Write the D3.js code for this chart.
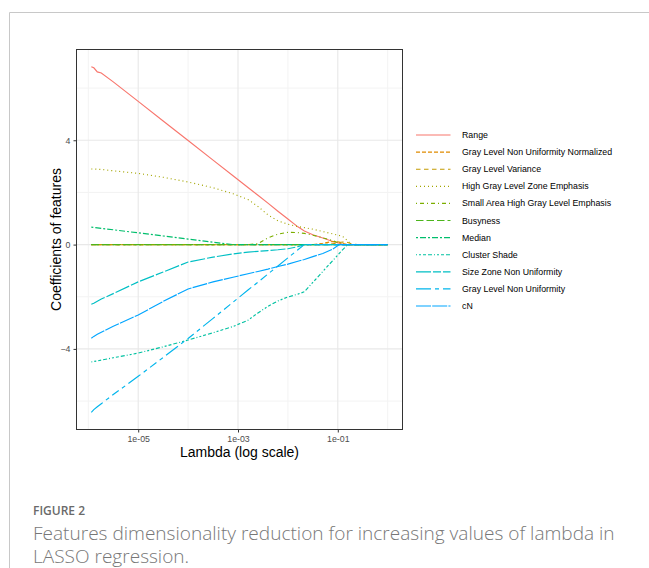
<!DOCTYPE html>
<html>
<head>
<meta charset="utf-8">
<script src="https://cdn.jsdelivr.net/npm/d3@7/dist/d3.min.js"></script>
<style>
  html, body { margin: 0; padding: 0; background: #ffffff; }
  svg { display: block; }
</style>
</head>
<body>
<svg id="chart" width="649" height="568"></svg>
<script>
// ---------------- DATA ----------------
const lambda = [1.148e-6, 1.288e-6, 1.514e-6, 1.820e-6, 3.162e-6, 1e-5, 3.162e-5, 1e-4, 3.162e-4,
  7.943e-4, 1.585e-3, 2.512e-3, 3.981e-3, 6.310e-3, 1e-2, 1.585e-2, 2.138e-2, 3.162e-2, 5.012e-2,
  7.943e-2, 0.1072, 0.1259, 0.1585, 0.1905, 0.2512, 1];

const featureNames = ["Range", "Gray Level Non Uniformity Normalized", "Gray Level Variance",
  "High Gray Level Zone Emphasis", "Small Area High Gray Level Emphasis", "Busyness", "Median",
  "Cluster Shade", "Size Zone Non Uniformity", "Gray Level Non Uniformity", "cN"];

const rangeCoef = [6.82,6.78,6.62,6.58,6.24,5.49,4.74,3.99,3.24,2.64,2.19,1.89,1.59,1.28,0.98,0.68,0.52,0.38,0.25,0.12,0.05,0,0,0,0,0];
const glnuNormCoef = [0,0,0,0,0,0,0,0,0,0,0,0,0,0,0,0,0,0,0.05,0.12,0.10,0.04,0,0,0,0];
const glVarianceCoef = [0,0,0,0,0,0,0,0,0,0,0,0,0,0,0,0,0,0,0,0.03,0.08,0.10,0.08,0.03,0,0];
const hglzeCoef = [2.90,2.90,2.89,2.88,2.83,2.73,2.58,2.40,2.18,1.95,1.73,1.46,1.14,0.91,0.78,0.69,0.65,0.59,0.50,0.41,0.35,0.31,0.14,0,0,0];
const sahgleCoef = [0,0,0,0,0,0,0,0,0,0,0,0.04,0.26,0.40,0.47,0.46,0.43,0.36,0.26,0.15,0.05,0,0,0,0,0];
const busynessCoef = [0,0,0,0,0,0,0,0,0,0,0,0,0,0,0,0,0,0,0,0,0,0,0,0,0,0];
const medianCoef = [0.67,0.66,0.64,0.62,0.57,0.45,0.33,0.21,0.09,0,0,0,0,0,0,0,0,0,0,0,0,0,0,0,0,0];
const clusterShadeCoef = [-4.50,-4.48,-4.46,-4.43,-4.34,-4.16,-3.92,-3.66,-3.38,-3.14,-2.90,-2.62,-2.37,-2.16,-2.01,-1.90,-1.81,-1.45,-1.03,-0.61,-0.34,-0.19,0,0,0,0];
const sznuCoef = [-2.29,-2.25,-2.17,-2.09,-1.88,-1.43,-1.05,-0.67,-0.48,-0.36,-0.29,-0.26,-0.23,-0.20,-0.16,-0.08,0,0,0,0,0,0,0,0,0,0];
const glnuCoef = [-6.43,-6.33,-6.22,-6.10,-5.75,-5.05,-4.33,-3.60,-2.83,-2.21,-1.74,-1.44,-1.13,-0.82,-0.51,-0.20,0,0,0,0,0,0,0,0,0,0];
const cNCoef = [-3.59,-3.52,-3.44,-3.36,-3.13,-2.70,-2.18,-1.70,-1.43,-1.25,-1.12,-1.03,-0.94,-0.84,-0.75,-0.64,-0.57,-0.46,-0.34,-0.17,0,0,0,0,0,0];

const coefSeries = [rangeCoef, glnuNormCoef, glVarianceCoef, hglzeCoef, sahgleCoef, busynessCoef,
  medianCoef, clusterShadeCoef, sznuCoef, glnuCoef, cNCoef];

const yTicks = [-4, 0, 4];
const yMinor = [-6, -2, 2, 6];
const xTicks = [1e-5, 1e-3, 1e-1];
const xTickLabels = ["1e-05", "1e-03", "1e-01"];
const xMinor = [1e-6, 1e-4, 1e-2, 1];

const captionTitle = "FIGURE 2";
const captionLines = ["Features dimensionality reduction for increasing values of lambda in", "LASSO regression."];

// ---------------- STYLE ----------------
const colors = ["#F8766D", "#E08B00", "#C49A00", "#A3A500", "#7CAE00", "#4CB51C", "#00BE6C",
  "#00C1A1", "#00BFC4", "#00B5EC", "#00A5FF"];
const dashes = ["none", "4,2", "4.5,3.5", "1,3", "1,3,4,3", "7.5,3", "2,2,6,2",
  "1,2,2,2,3,2,4,2", "15,2,8,2", "15,4,4,4,8,4,4,4", "15,1.2"];

const svg = d3.select("#chart");
const font = "'Liberation Sans', Arial, Helvetica, sans-serif";

// card border
svg.append("path")
  .attr("d", "M9.5,568 L9.5,12.5 L649,12.5")
  .attr("fill", "none").attr("stroke", "#c8c8c8").attr("stroke-width", 1);

const P = { left: 76.5, right: 402.5, top: 49.5, bottom: 429.5 };

const x = d3.scaleLog()
  .domain([Math.pow(10, -6.237), Math.pow(10, 0.297)])
  .range([P.left, P.right]);
const y = d3.scaleLinear()
  .domain([-7.09, 7.48])
  .range([P.bottom, P.top]);

const g = svg.append("g");

// grid
g.selectAll(".ymin").data(yMinor).join("line")
  .attr("x1", P.left).attr("x2", P.right)
  .attr("y1", d => y(d)).attr("y2", d => y(d))
  .attr("stroke", "#f3f3f3").attr("stroke-width", 1);
g.selectAll(".xmin").data(xMinor).join("line")
  .attr("y1", P.top).attr("y2", P.bottom)
  .attr("x1", d => x(d)).attr("x2", d => x(d))
  .attr("stroke", "#f3f3f3").attr("stroke-width", 1);
g.selectAll(".ymaj").data(yTicks).join("line")
  .attr("x1", P.left).attr("x2", P.right)
  .attr("y1", d => y(d)).attr("y2", d => y(d))
  .attr("stroke", "#e8e8e8").attr("stroke-width", 1.1);
g.selectAll(".xmaj").data(xTicks).join("line")
  .attr("y1", P.top).attr("y2", P.bottom)
  .attr("x1", d => x(d)).attr("x2", d => x(d))
  .attr("stroke", "#e8e8e8").attr("stroke-width", 1.1);

// lines
const line = d3.line()
  .x((d, i) => x(lambda[i]))
  .y(d => y(d));

const clipId = "plotclip";
svg.append("clipPath").attr("id", clipId).append("rect")
  .attr("x", P.left).attr("y", P.top).attr("width", P.right - P.left).attr("height", P.bottom - P.top);

const lines = g.append("g").attr("clip-path", `url(#${clipId})`);
coefSeries.forEach((s, k) => {
  lines.append("path")
    .attr("d", line(s))
    .attr("fill", "none")
    .attr("stroke", colors[k])
    .attr("stroke-width", 1.15)
    .attr("stroke-dasharray", dashes[k]);
});

// axes
const yAxis = d3.axisLeft(y).tickValues(yTicks).tickSize(3).tickPadding(3).tickFormat(d3.format("d"));
const xAxis = d3.axisBottom(x).tickValues(xTicks).tickSize(3).tickPadding(3)
  .tickFormat((d, i) => xTickLabels[i]);

const ya = svg.append("g").attr("transform", `translate(${P.left},0)`).call(yAxis);
const xa = svg.append("g").attr("transform", `translate(0,${P.bottom})`).call(xAxis);
[ya, xa].forEach(a => {
  a.select(".domain").remove();
  a.selectAll(".tick line").attr("stroke", "#333333").attr("stroke-width", 1);
  a.selectAll(".tick text").attr("fill", "#4d4d4d").style("font-family", font).style("font-size", "8.8px");
});

// panel border
svg.append("rect")
  .attr("x", P.left).attr("y", P.top)
  .attr("width", P.right - P.left).attr("height", P.bottom - P.top)
  .attr("fill", "none").attr("stroke", "#333333").attr("stroke-width", 1);

// axis titles
svg.append("text")
  .attr("x", (P.left + P.right) / 2).attr("y", 457)
  .attr("text-anchor", "middle")
  .style("font-family", font).style("font-size", "14px").attr("fill", "#000")
  .text("Lambda (log scale)");
svg.append("text")
  .attr("transform", `translate(61,${(P.top + P.bottom) / 2}) rotate(-90)`)
  .attr("text-anchor", "middle")
  .style("font-family", font).style("font-size", "14px").attr("fill", "#000")
  .text("Coefficients of features");

// legend
const lg = svg.append("g");
featureNames.forEach((name, k) => {
  const yy = 135 + k * 17.1;
  lg.append("line")
    .attr("x1", 416).attr("x2", 450.5).attr("y1", yy).attr("y2", yy)
    .attr("stroke", colors[k]).attr("stroke-width", 1.15)
    .attr("stroke-dasharray", dashes[k]);
  lg.append("text")
    .attr("x", 462).attr("y", yy).attr("dy", "0.35em")
    .style("font-family", font).style("font-size", "8.8px").attr("fill", "#000")
    .text(name);
});

// caption
const capFont = "'Open Sans', 'Noto Sans', sans-serif";
svg.append("text")
  .attr("x", 33).attr("y", 515)
  .style("font-family", capFont).style("font-size", "12px").style("font-weight", "600")
  .attr("fill", "#6a6a6a")
  .text(captionTitle);
let capSize = 17;
captionLines.forEach((t, i) => {
  const tx = svg.append("text")
    .attr("x", 33).attr("y", 539.5 + i * 23.5)
    .style("font-family", capFont).style("font-size", capSize + "px").style("font-weight", "300")
    .attr("fill", "#777777")
    .text(t);
  if (i === 0) {
    const w = tx.node().getComputedTextLength();
    if (w > 0) {
      capSize = +(17 * 582 / w).toFixed(2);
      tx.style("font-size", capSize + "px");
    }
  }
});
</script>
</body>
</html>
